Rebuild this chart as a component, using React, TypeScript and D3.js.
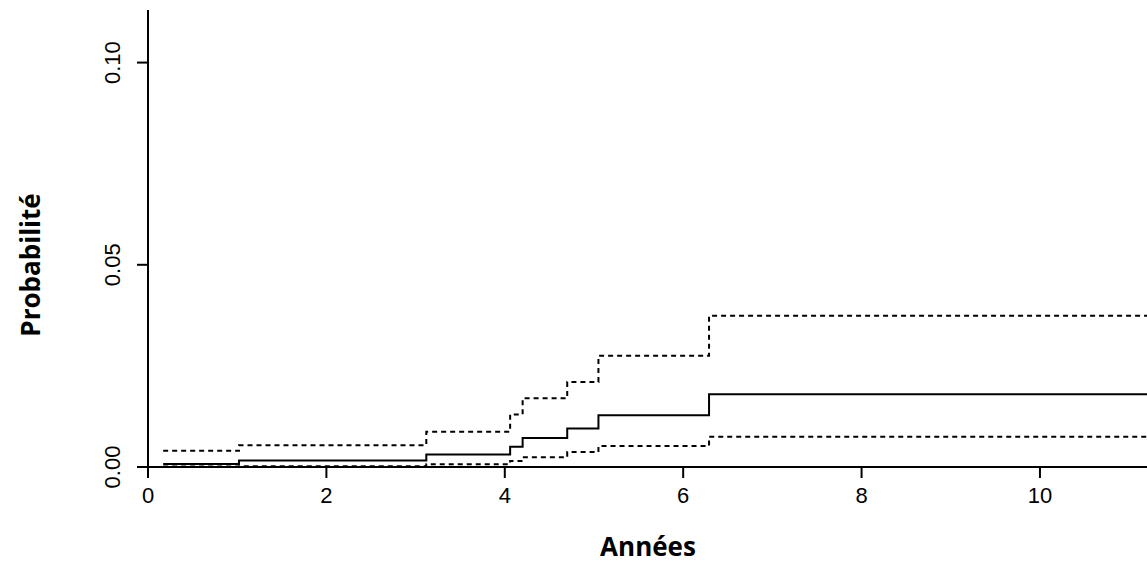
import React from "react";
import * as d3 from "d3";

const times = [0.17, 1.02, 3.12, 4.06, 4.2, 4.7, 5.05, 6.29, 11.5];
const est = [0.00074, 0.0016, 0.0031, 0.005, 0.0072, 0.0095, 0.0128, 0.018, 0.018];
const upper = [0.004, 0.0054, 0.0087, 0.013, 0.017, 0.021, 0.0275, 0.0374, 0.0374];
const lower = [0.0001, 0.0002, 0.0007, 0.0015, 0.0024, 0.0037, 0.0052, 0.0075, 0.0075];
const xTicks = [0, 2, 4, 6, 8, 10];
const yTicks = [0, 0.05, 0.1];

export default function App() {
  const W = 1147, H = 580;
  const x = d3.scaleLinear().domain([0, 11.2]).range([148, 1147]);
  const y = d3.scaleLinear().domain([0, 0.113]).range([467, 10]);
  const line = d3.line<number>().x((_, i) => x(times[i])).y((d) => y(d)).curve(d3.curveStepAfter);
  return (
    <svg width={W} height={H} style={{ position: "absolute", left: 0, top: 0 }}>
      <defs>
        <clipPath id="c"><rect x={148} y={0} width={999} height={470} /></clipPath>
      </defs>
      <g clipPath="url(#c)" fill="none" stroke="#000">
        <path d={line(est) || ""} strokeWidth={2} />
        <path d={line(upper) || ""} strokeWidth={2} strokeDasharray="5,4" />
        <path d={line(lower) || ""} strokeWidth={2} strokeDasharray="5,4" />
      </g>
      <line x1={148} x2={1147} y1={467} y2={467} stroke="#000" strokeWidth={2} />
      <line x1={148} x2={148} y1={10} y2={467} stroke="#000" strokeWidth={2} />
      {xTicks.map((t) => (
        <g key={t}>
          <line x1={x(t)} x2={x(t)} y1={467} y2={478} stroke="#000" strokeWidth={2} />
          <text x={x(t)} y={503} textAnchor="middle" fontFamily="Liberation Sans, Arial" fontSize={22}>{t}</text>
        </g>
      ))}
      {yTicks.map((t) => (
        <g key={t}>
          <line x1={137} x2={148} y1={y(t)} y2={y(t)} stroke="#000" strokeWidth={2} />
          <text transform={`translate(120,${y(t)}) rotate(-90)`} textAnchor="middle" fontFamily="Liberation Sans, Arial" fontSize={22}>{t.toFixed(2)}</text>
        </g>
      ))}
      <text x={648} y={556} textAnchor="middle" fontFamily="Open Sans, sans-serif" fontWeight="bold" fontSize={26}>Années</text>
      <text transform="translate(40,265) rotate(-90)" textAnchor="middle" fontFamily="Open Sans, sans-serif" fontWeight="bold" fontSize={26}>Probabilité</text>
    </svg>
  );
}
